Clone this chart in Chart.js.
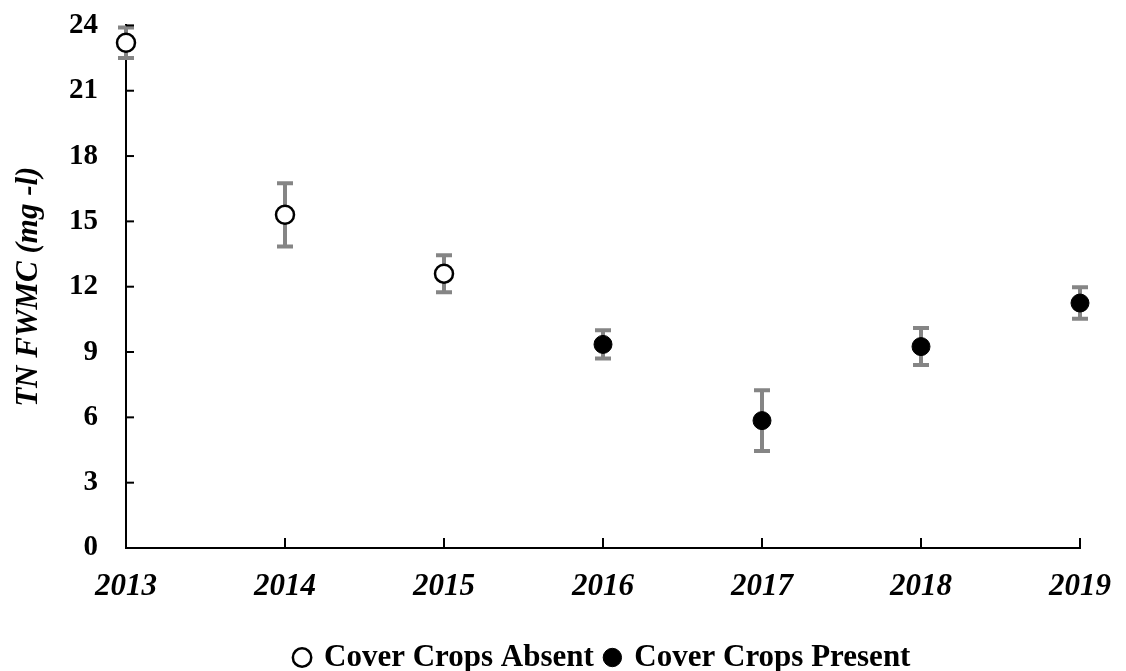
<!DOCTYPE html>
<html>
<head>
<meta charset="utf-8">
<script src="https://cdn.jsdelivr.net/npm/chart.js@4.4.1/dist/chart.umd.min.js"></script>
<style>
  html, body { margin: 0; padding: 0; background: #fff; }
  #wrap { width: 1126px; height: 671px; }
</style>
</head>
<body>
<div id="wrap"><canvas id="fwmcChart" width="1126" height="671"></canvas></div>
<script>
// TN flow-weighted mean concentration by year
const years = [2013, 2014, 2015, 2016, 2017, 2018, 2019];
const fwmc = [23.2, 15.3, 12.6, 9.35, 5.85, 9.25, 11.25];
const stdErr = [0.7, 1.45, 0.85, 0.65, 1.4, 0.85, 0.72];
const coverCrops = ['Absent', 'Absent', 'Absent', 'Present', 'Present', 'Present', 'Present'];
const yTicks = [0, 3, 6, 9, 12, 15, 18, 21, 24];

const serif = "'Liberation Serif', 'Times New Roman', serif";

function pointsFor(group) {
    const pts = [];
    years.forEach((yr, i) => {
        if (coverCrops[i] === group) pts.push({ x: yr, y: fwmc[i], err: stdErr[i] });
    });
    return pts;
}

// error bars, drawn under the points
const errorBars = {
    id: 'errorBars',
    beforeDatasetsDraw(chart) {
        const ctx = chart.ctx;
        const xs = chart.scales.x, ys = chart.scales.y;
        ctx.save();
        ctx.strokeStyle = '#858585';
        ctx.lineWidth = 4;
        chart.data.datasets.forEach(ds => {
            ds.data.forEach(p => {
                const px = xs.getPixelForValue(p.x);
                const top = ys.getPixelForValue(p.y + p.err);
                const bot = ys.getPixelForValue(p.y - p.err);
                ctx.beginPath();
                ctx.moveTo(px, top); ctx.lineTo(px, bot);
                ctx.moveTo(px - 8, top); ctx.lineTo(px + 8, top);
                ctx.moveTo(px - 8, bot); ctx.lineTo(px + 8, bot);
                ctx.stroke();
            });
        });
        ctx.restore();
    }
};

// tick marks point inward like the original
const innerTicks = {
    id: 'innerTicks',
    afterDraw(chart) {
        const ctx = chart.ctx;
        const xs = chart.scales.x, ys = chart.scales.y;
        const area = chart.chartArea;
        ctx.save();
        ctx.strokeStyle = '#000';
        ctx.lineWidth = 2;
        ys.ticks.forEach(t => {
            const py = ys.getPixelForValue(t.value);
            ctx.beginPath();
            ctx.moveTo(area.left, py); ctx.lineTo(area.left + 8, py);
            ctx.stroke();
        });
        xs.ticks.forEach(t => {
            const px = xs.getPixelForValue(t.value);
            ctx.beginPath();
            ctx.moveTo(px, area.bottom); ctx.lineTo(px, area.bottom - 10);
            ctx.stroke();
        });
        ctx.restore();
    }
};

const ctx = document.getElementById('fwmcChart').getContext('2d');
const fwmcChart = new Chart(ctx, {
    type: 'scatter',
    data: {
        datasets: [{
            label: 'Cover Crops Absent',
            data: pointsFor('Absent'),
            backgroundColor: '#ffffff',
            borderColor: '#000000',
            borderWidth: 2.5,
            pointRadius: 9,
            clip: false
        }, {
            label: 'Cover Crops Present',
            data: pointsFor('Present'),
            backgroundColor: '#000000',
            borderColor: '#000000',
            borderWidth: 1,
            pointRadius: 9,
            clip: false
        }]
    },
    options: {
        responsive: false,
        animation: false,
        layout: { padding: { left: 8, right: 46, top: 0, bottom: -12 } },
        plugins: {
            tooltip: { enabled: false },
            legend: {
                position: 'bottom',
                fullSize: false,
                labels: {
                    usePointStyle: true,
                    pointStyle: 'circle',
                    boxWidth: 13,
                    boxHeight: 13,
                    padding: 12,
                    color: '#000',
                    font: { family: serif, size: 31, weight: 'bold' }
                }
            }
        },
        scales: {
            x: {
                type: 'linear',
                min: 2013,
                max: 2019,
                border: { color: '#000', width: 2 },
                grid: { display: false },
                afterFit(scale) { scale.height = 82; },
                afterBuildTicks(scale) { scale.ticks = years.map(v => ({ value: v })); },
                ticks: {
                    color: '#000',
                    padding: 12,
                    maxRotation: 0,
                    callback: v => String(v),
                    font: { family: serif, size: 31, weight: 'bold', style: 'italic' }
                }
            },
            y: {
                min: 0,
                max: 24,
                border: { color: '#000', width: 2 },
                grid: { display: false, tickLength: 20 },
                afterFit(scale) { scale.width = 118; },
                afterBuildTicks(scale) { scale.ticks = yTicks.map(v => ({ value: v })); },
                title: {
                    display: true,
                    text: 'TN FWMC (mg -l)',
                    color: '#000',
                    padding: { top: 2, bottom: 0 },
                    font: { family: serif, size: 31, weight: 'bold', style: 'italic' }
                },
                ticks: {
                    color: '#000',
                    padding: 8,
                    font: { family: serif, size: 29, weight: 'bold' }
                }
            }
        }
    },
    plugins: [errorBars, innerTicks]
});
</script>
</body>
</html>
